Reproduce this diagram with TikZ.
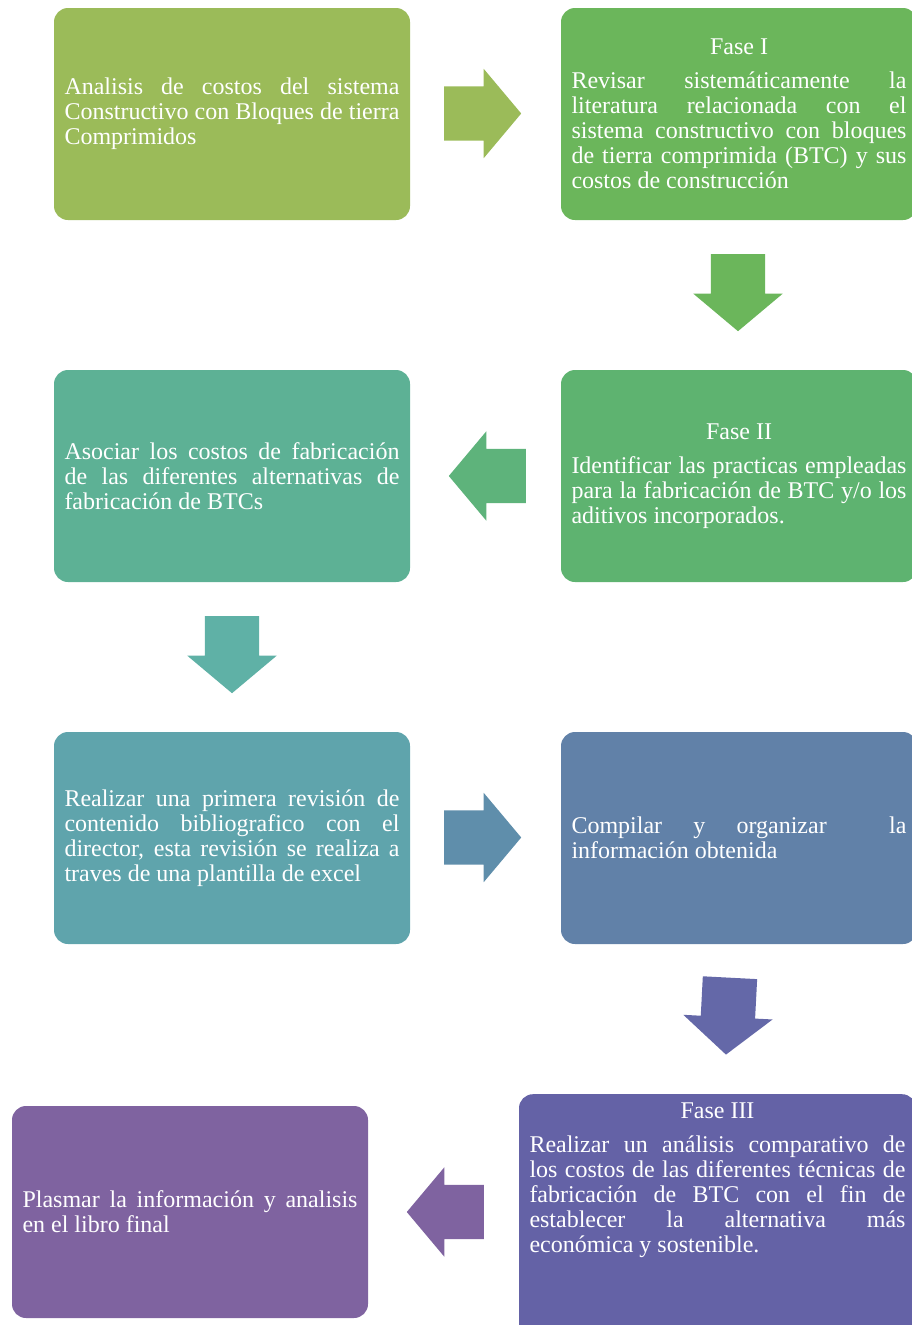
\documentclass[tikz,border=0pt]{standalone}
\usepackage{fontspec}
\setmainfont{Liberation Serif}
\usepackage{xcolor}
\usetikzlibrary{shapes.arrows,positioning}
\definecolor{olive}{HTML}{9BBB59}
\definecolor{grassA}{HTML}{6BB65B}
\definecolor{grassB}{HTML}{5EB370}
\definecolor{jade}{HTML}{5DB195}
\definecolor{teal}{HTML}{5FA4AC}
\definecolor{steel}{HTML}{6181A8}
\definecolor{indigo}{HTML}{6462A6}
\definecolor{plum}{HTML}{7F63A0}
\definecolor{arrCD}{HTML}{5EB37B}
\definecolor{arrDE}{HTML}{5FB1A6}
\definecolor{arrEF}{HTML}{5F8EAB}
\definecolor{arrFG}{HTML}{6468A8}
\hbadness=10000
\begin{document}
\begin{tikzpicture}[x = 1pt, y = -1pt,
    stage/.style = {rounded corners = 14pt, text = white, align = justify,
      text width = 335pt, minimum width = 356pt, minimum height = 212pt,
      inner xsep = 10.5pt, font = \fontsize{24}{25}\selectfont},
    flow/.style = {single arrow, inner sep = 0pt, inner ysep = 27pt,
      minimum width = 89pt, minimum height = 77pt,
      single arrow head extend = 17.5pt, single arrow tip angle = 100, anchor = tail}]
    \clip (0,0) rectangle (912,1325);
    \node[stage, fill = olive] (analisis) at (232,114) {Analisis de costos del sistema\linebreak
      Constructivo con Bloques de tierra\linebreak Comprimidos};
    \node[stage, fill = grassA] (fase1) at (739,114) {\makebox[\linewidth]{Fase I}\\[9pt]
      Revisar sistemáticamente la\linebreak literatura relacionada con el\linebreak
      sistema constructivo con bloques\linebreak de tierra comprimida (BTC) y sus\linebreak
      costos de construcción};
    \node[stage, fill = grassB] (fase2) at (739,476) {\makebox[\linewidth]{Fase II}\\[9pt]
      Identificar las practicas empleadas\linebreak para la fabricación de BTC y/o los\linebreak
      aditivos incorporados.};
    \node[stage, fill = jade] (asociar) at (232,476) {Asociar los costos de fabricación\linebreak
      de las diferentes alternativas de\linebreak fabricación de BTCs};
    \node[stage, fill = teal] (revision) at (232,838) {Realizar una primera revisión de\linebreak
      contenido bibliografico con el\linebreak director, esta revisión se realiza a\linebreak
      traves de una plantilla de excel};
    \node[stage, fill = steel] (compilar) at (739,838) {Compilar y organizar~ la\linebreak
      información obtenida};
    \node[stage, fill = indigo, anchor = north, text width = 376pt, minimum height = 0pt,
      inner ysep = 9pt] (fase3) at (717.5,1094) {\makebox[\linewidth]{Fase III}\\[9pt]
      Realizar un análisis comparativo de\linebreak los costos de las diferentes técnicas de\linebreak
      fabricación de BTC con el fin de\linebreak establecer la alternativa más\linebreak
      económica y sostenible.\par\rule{0pt}{110pt}};
    \node[stage, fill = plum] (plasmar) at (190,1212) {Plasmar la información y analisis\linebreak
      en el libro final};
    % Arrows
    \node[flow, fill = olive] (ar1) at (444,113.5) {};
    \node[flow, fill = grassA, rotate = -90] (ar2) at (738,254) {};
    \node[flow, fill = arrCD, rotate = 180] (ar3) at (526,476) {};
    \node[flow, fill = arrDE, rotate = -90] (ar4) at (232,616) {};
    \node[flow, fill = arrEF] (ar5) at (444,837.5) {};
    \node[flow, fill = arrFG, rotate = -93] (ar6) at (730,977.5) {};
    \node[flow, fill = plum, rotate = 180] (ar7) at (484,1212) {};
\end{tikzpicture}
\end{document}
